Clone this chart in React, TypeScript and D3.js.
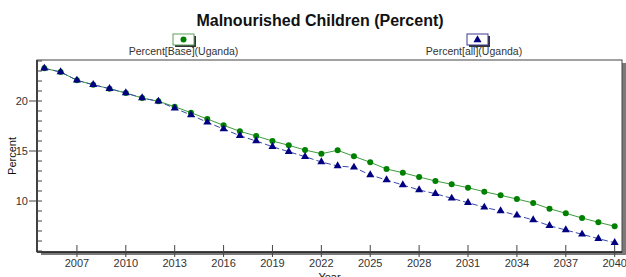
import React from "react";
import * as d3 from "d3";

const years = [
  2005, 2006, 2007, 2008, 2009, 2010, 2011, 2012, 2013, 2014, 2015, 2016,
  2017, 2018, 2019, 2020, 2021, 2022, 2023, 2024, 2025, 2026, 2027, 2028,
  2029, 2030, 2031, 2032, 2033, 2034, 2035, 2036, 2037, 2038, 2039, 2040,
];
const baseValues = [
  23.27, 22.9, 22.07, 21.63, 21.23, 20.8, 20.3, 19.97, 19.43, 18.83, 18.2, 17.57,
  16.97, 16.5, 16.0, 15.57, 15.1, 14.73, 15.07, 14.47, 13.87, 13.2, 12.83, 12.4,
  12.0, 11.67, 11.33, 10.93, 10.57, 10.2, 9.8, 9.23, 8.77, 8.3, 7.87, 7.47,
];
const allValues = [
  23.27, 22.9, 22.07, 21.63, 21.23, 20.8, 20.3, 19.97, 19.27, 18.6, 17.87, 17.2,
  16.53, 16.0, 15.43, 14.93, 14.43, 13.9, 13.5, 13.37, 12.6, 12.1, 11.6, 11.1,
  10.73, 10.27, 9.83, 9.37, 9.0, 8.57, 8.1, 7.53, 7.1, 6.67, 6.23, 5.83,
];
const xTicks = [2007, 2010, 2013, 2016, 2019, 2022, 2025, 2028, 2031, 2034, 2037, 2040];
const yTicks = [10, 15, 20];
const seriesLabels = ["Percent[Base](Uganda)", "Percent[all](Uganda)"];

const W = 626;
const H = 277;
const plot = { left: 37, top: 60, right: 622, bottom: 252 };
const FONT = "'Liberation Sans', Arial, sans-serif";
const TEXT = "#333";

export default function App() {
  const x = d3.scaleLinear().domain([2004.55, 2040.45]).range([plot.left, plot.right]);
  const y = d3.scaleLinear().domain([4.9, 24.1]).range([plot.bottom, plot.top]);

  const line = d3
    .line<number>()
    .x((_, i) => x(years[i]))
    .y((d) => y(d));

  const minorTicks = d3.range(5, 25).filter((v) => y(v) > plot.top + 0.5 && !yTicks.includes(v));
  const tri = d3.symbol(d3.symbolTriangle, 28)();

  return (
    <svg
      width={W}
      height={H}
      style={{ position: "absolute", left: 0, top: 0, background: "#fff" }}
      fontFamily={FONT}
    >
      <text x={320} y={26} textAnchor="middle" fontSize={16} fontWeight="bold" fill="#111">
        Malnourished Children (Percent)
      </text>

      {/* legend */}
      <g>
        <rect x={175} y={36} width={21} height={11} fill="#333" />
        <rect x={173} y={34} width={21} height={11} fill="#fff" stroke="#5aa05a" />
        <circle cx={183.5} cy={39.5} r={3} fill="#008000" />
        <text x={183.5} y={55} textAnchor="middle" fontSize={10.5} fill={TEXT}>
          {seriesLabels[0]}
        </text>
        <rect x={469} y={36} width={21} height={11} fill="#333" />
        <rect x={467} y={34} width={21} height={11} fill="#fff" stroke="#3a3a90" />
        <path d={tri} transform="translate(477.5,40)" fill="#000080" />
        <text x={474} y={55} textAnchor="middle" fontSize={10.5} fill={TEXT}>
          {seriesLabels[1]}
        </text>
      </g>

      {/* frame with shadow */}
      <rect
        x={plot.left + 4}
        y={plot.top + 3}
        width={plot.right - plot.left}
        height={plot.bottom - plot.top}
        fill="#7a7a7a"
      />
      <rect
        x={plot.left}
        y={plot.top}
        width={plot.right - plot.left}
        height={plot.bottom - plot.top}
        fill="#fff"
        stroke="#444"
        strokeWidth={1}
      />
      <line x1={plot.left} x2={plot.right} y1={plot.bottom} y2={plot.bottom} stroke="#222" strokeWidth={1.5} />
      <line x1={plot.left} x2={plot.left} y1={plot.top} y2={plot.bottom} stroke="#222" strokeWidth={1.5} />

      {/* y axis */}
      {minorTicks.map((v) => (
        <line key={v} x1={plot.left} x2={plot.left + 5} y1={y(v)} y2={y(v)} stroke="#444" />
      ))}
      {yTicks.map((v) => (
        <g key={v}>
          <line x1={plot.left - 8} x2={plot.left + 5} y1={y(v)} y2={y(v)} stroke="#444" />
          <text x={plot.left - 9} y={y(v) + 4} textAnchor="end" fontSize={11} fill={TEXT}>
            {v}
          </text>
        </g>
      ))}
      <text
        transform={`translate(16,${(plot.top + plot.bottom) / 2}) rotate(-90)`}
        textAnchor="middle"
        fontSize={11}
        fill="#111"
      >
        Percent
      </text>

      {/* x axis */}
      {xTicks.map((v) => (
        <g key={v}>
          <line x1={x(v)} x2={x(v)} y1={plot.bottom - 7} y2={plot.bottom + 5} stroke="#444" />
          <text x={x(v)} y={267} textAnchor="middle" fontSize={11} fill={TEXT}>
            {v}
          </text>
        </g>
      ))}
      <text x={(plot.left + plot.right) / 2} y={281} textAnchor="middle" fontSize={11} fill="#111">
        Year
      </text>

      {/* series */}
      <path d={line(baseValues) ?? ""} fill="none" stroke="#3c9c3c" strokeWidth={1} />
      {baseValues.map((v, i) => (
        <circle key={i} cx={x(years[i])} cy={y(v)} r={3} fill="#008000" />
      ))}
      <path
        d={line(allValues) ?? ""}
        fill="none"
        stroke="#3a4aa8"
        strokeWidth={1}
        strokeDasharray="6,3"
      />
      {allValues.map((v, i) => (
        <path key={i} d={tri} transform={`translate(${x(years[i])},${y(v)})`} fill="#000080" />
      ))}
    </svg>
  );
}
